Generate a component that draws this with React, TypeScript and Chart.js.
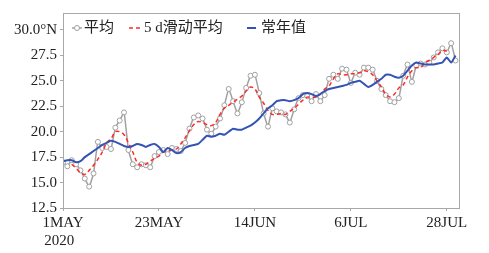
import React, { useEffect, useRef } from "react";
import { Chart, registerables } from "chart.js";

Chart.register(...registerables);

// Daily values from 1 May 2020 (day index 0)
const dailyMean: number[] = [
  17.0, 16.6, 17.2, 16.8, 16.2, 15.4, 14.6, 15.9, 19.0, 18.4,
  18.5, 18.3, 20.4, 21.1, 21.9, 18.2, 16.8, 16.5, 16.8, 16.7,
  16.5, 17.6, 18.0, 18.2, 17.8, 18.4, 18.3, 18.1, 18.9, 20.3,
  21.4, 21.6, 21.3, 20.2, 19.8, 20.5, 21.3, 22.6, 24.2, 23.0,
  21.8, 22.9, 24.3, 25.5, 25.6, 23.8, 21.8, 20.5, 22.3, 22.0,
  21.9, 21.7, 20.9, 22.2, 23.3, 23.6, 23.5, 23.0, 23.7, 23.0,
  23.6, 25.2, 25.6, 25.2, 26.2, 26.1, 24.8, 25.8, 25.6, 26.3,
  26.3, 26.1, 25.0, 24.2, 23.6, 23.0, 22.9, 23.3, 25.5, 26.6,
  24.9, 26.5, 26.7, 26.6, 26.8, 27.3, 27.8, 28.2, 27.8, 28.7,
  27.0,
];

// 5-day running mean, first value at day index 2
const ma5StartDay = 2;
const ma5: number[] = [
  16.8, 16.4, 16.0, 15.8, 16.2, 16.7, 17.3, 18.0, 18.9, 19.3,
  20.0, 20.0, 19.7, 18.9, 18.0, 17.0, 16.7, 16.8, 17.1, 17.4,
  17.6, 18.0, 18.1, 18.2, 18.3, 18.8, 19.4, 20.1, 20.7, 21.0,
  20.9, 20.7, 20.6, 20.9, 21.7, 22.3, 22.6, 22.9, 23.2, 23.5,
  24.0, 24.4, 24.2, 23.4, 22.8, 22.1, 21.7, 21.7, 21.8, 21.7,
  22.0, 22.3, 22.7, 23.1, 23.4, 23.4, 23.4, 23.7, 24.2, 24.5,
  25.2, 25.7, 25.6, 25.6, 25.7, 25.7, 25.8, 26.0, 25.9, 25.6,
  25.0, 24.4, 23.7, 23.4, 23.7, 24.3, 24.6, 25.4, 26.0, 26.3,
  26.3, 26.8, 27.0, 27.3, 27.6, 28.0, 27.9,
];

// Climatology
const normal: number[] = [
  17.1, 17.2, 17.2, 17.0, 17.1, 17.5, 17.8, 18.1, 18.4, 18.7,
  18.9, 19.1, 19.0, 18.8, 18.6, 18.5, 18.6, 18.8, 18.7, 18.5,
  18.7, 18.8, 18.5, 18.0, 18.4, 18.2, 17.9, 18.0, 18.4, 18.6,
  18.7, 18.8, 19.2, 19.6, 19.5, 19.6, 19.8, 19.7, 20.0, 20.3,
  20.2, 20.2, 20.4, 20.6, 20.9, 21.3, 21.8, 22.3, 22.6, 23.0,
  23.1, 23.1, 23.0, 23.1, 23.3, 23.7, 23.8, 23.7, 23.5, 23.7,
  24.0, 24.2, 24.3, 24.4, 24.5, 24.6, 24.8, 24.9, 25.0, 24.7,
  24.4, 24.6, 24.9, 25.2, 25.6, 25.6, 25.4, 25.3, 25.5, 26.0,
  26.5, 26.8, 26.7, 26.6, 26.6, 26.6, 26.7, 26.8, 27.3, 26.8,
  27.5,
];

const tickDays: number[] = [0, 22, 44, 66, 88];
const tickLabels: (string | string[])[] = [["1MAY", "2020  "], "23MAY", "14JUN", "6JUL", "28JUL"];
const yTicks: number[] = [12.5, 15, 17.5, 20, 22.5, 25, 27.5, 30];
const seriesNames: string[] = ["平均", "5 d滑动平均", "常年值"];

const GRAY = "#a0a0a0";
const RED = "#ff2a2a";
const BLUE = "#3453b4";
const FONT = '"Liberation Serif", "Noto Sans CJK SC", serif';

const framePlugin = {
  id: "frameAndLegend",
  afterDraw(chart: any) {
    const { ctx, chartArea } = chart;
    ctx.save();
    ctx.strokeStyle = "#a8a8a8";
    ctx.lineWidth = 1;
    ctx.strokeRect(chartArea.left + 0.5, chartArea.top + 0.5, chartArea.right - chartArea.left, chartArea.bottom - chartArea.top);

    const y = 28;
    ctx.font = "15px " + FONT;
    ctx.textBaseline = "middle";
    ctx.fillStyle = "#222";
    // gray item
    ctx.strokeStyle = GRAY;
    ctx.lineWidth = 1.5;
    ctx.beginPath();
    ctx.moveTo(72, y);
    ctx.lineTo(82, y);
    ctx.stroke();
    ctx.beginPath();
    ctx.arc(77, y, 2.5, 0, Math.PI * 2);
    ctx.fillStyle = "#fff";
    ctx.fill();
    ctx.lineWidth = 1;
    ctx.stroke();
    ctx.fillStyle = "#222";
    ctx.fillText(seriesNames[0], 84, y);
    // red item
    ctx.strokeStyle = RED;
    ctx.lineWidth = 1.5;
    ctx.setLineDash([4, 3]);
    ctx.beginPath();
    ctx.moveTo(129, y);
    ctx.lineTo(141, y);
    ctx.stroke();
    ctx.setLineDash([]);
    ctx.fillText(seriesNames[1], 144, y);
    // blue item
    ctx.strokeStyle = BLUE;
    ctx.lineWidth = 2;
    ctx.beginPath();
    ctx.moveTo(247, y);
    ctx.lineTo(256, y);
    ctx.stroke();
    ctx.fillText(seriesNames[2], 261, y);
    ctx.restore();
  },
};

export default function App() {
  const canvasRef = useRef<HTMLCanvasElement | null>(null);

  useEffect(() => {
    document.body.style.margin = "0";
    const canvas = canvasRef.current;
    if (!canvas) return;
    const chart = new Chart(canvas, {
      type: "line",
      data: {
        datasets: [
          {
            label: seriesNames[0],
            data: dailyMean.map((v, i) => ({ x: i, y: v })),
            borderColor: GRAY,
            borderWidth: 1.5,
            pointRadius: 2.5,
            pointBackgroundColor: "#fff",
            pointBorderColor: GRAY,
            pointBorderWidth: 1,
            tension: 0.1,
            order: 3,
          },
          {
            label: seriesNames[1],
            data: ma5.map((v, i) => ({ x: i + ma5StartDay, y: v })),
            borderColor: RED,
            borderWidth: 1.5,
            borderDash: [4, 3],
            pointRadius: 0,
            tension: 0.35,
            order: 2,
          },
          {
            label: seriesNames[2],
            data: normal.map((v, i) => ({ x: i, y: v })),
            borderColor: BLUE,
            borderWidth: 2,
            pointRadius: 0,
            tension: 0.2,
            order: 1,
          },
        ],
      },
      options: {
        responsive: false,
        animation: false,
        layout: { padding: { top: 13, right: 30, left: 0, bottom: 0 } },
        plugins: { legend: { display: false }, tooltip: { enabled: false } },
        scales: {
          x: {
            type: "linear",
            min: 0,
            max: 90.8,
            afterBuildTicks: (scale: any) => {
              scale.ticks = tickDays.map((d) => ({ value: d }));
            },
            afterFit: (scale: any) => {
              scale.height = 45;
            },
            ticks: {
              autoSkip: false,
              maxRotation: 0,
              padding: 3,
              color: "#222",
              font: { family: FONT, size: 15 },
              callback: (value: any) => {
                const idx = tickDays.indexOf(Number(value));
                return idx >= 0 ? tickLabels[idx] : "";
              },
            },
            grid: { drawOnChartArea: false, drawTicks: true, tickLength: 3, color: "#a8a8a8" },
            border: { display: true, color: "#a8a8a8" },
          },
          y: {
            min: 12.5,
            max: 31.67,
            afterBuildTicks: (scale: any) => {
              scale.ticks = yTicks.map((v) => ({ value: v }));
            },
            afterFit: (scale: any) => {
              scale.width = 63;
            },
            ticks: {
              padding: 3,
              color: "#222",
              font: { family: FONT, size: 15 },
              callback: (value: any) => {
                const v = Number(value);
                return v === 30 ? "30.0°N" : v.toFixed(1);
              },
            },
            grid: { drawOnChartArea: false, drawTicks: true, tickLength: 3, color: "#a8a8a8" },
            border: { display: true, color: "#a8a8a8" },
          },
        },
      },
      plugins: [framePlugin],
    } as any);
    return () => chart.destroy();
  }, []);

  return (
    <div style={{ width: 489, height: 253, background: "#fff" }}>
      <canvas ref={canvasRef} width={489} height={253} />
    </div>
  );
}
